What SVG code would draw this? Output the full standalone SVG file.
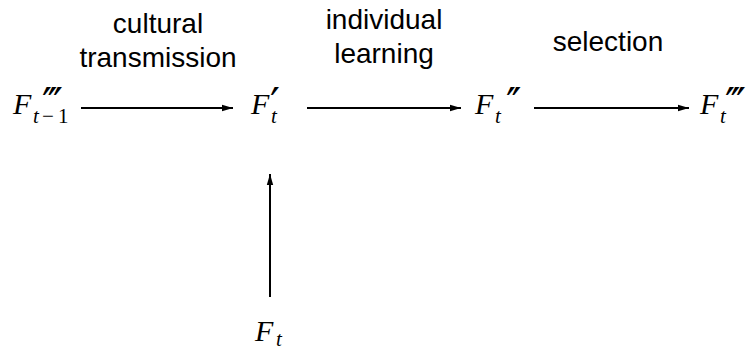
<svg xmlns="http://www.w3.org/2000/svg" width="746" height="354" viewBox="0 0 746 354">
<style>
.lbl{font-family:"Liberation Sans",Arial,sans-serif;font-size:28px;fill:#000;text-anchor:middle}
.m{font-family:"Liberation Serif","Times New Roman",serif;font-style:italic;font-size:30px;fill:#000}
.s{font-family:"Liberation Serif","Times New Roman",serif;font-style:italic;font-size:21px;fill:#000}
.n{font-family:"Liberation Serif","Times New Roman",serif;font-size:21px;fill:#000}
.p{font-family:"DejaVu Sans",sans-serif;font-size:44px;fill:#000}
.c{stroke:#000;stroke-width:2;fill:none}
</style>
<defs>
<marker id="ah" markerWidth="12" markerHeight="8" refX="11" refY="4" orient="auto" markerUnits="userSpaceOnUse">
<path d="M0,0.8 L11,4 L0,7.2 Z" fill="#000"/>
</marker>
</defs>
<rect width="746" height="354" fill="#fff"/>
<g id="labels">
<text class="lbl" x="158" y="33">cultural</text>
<text class="lbl" x="158" y="67">transmission</text>
<text class="lbl" x="384" y="29">individual</text>
<text class="lbl" x="384" y="63">learning</text>
<text class="lbl" x="608" y="51">selection</text>
</g>
<g id="n_Ftm1">
<text class="m" x="13" y="114">F</text>
<text class="p" x="42 47.5 53" y="120">′′′</text>
<text class="s" x="33" y="123">t</text>
<text class="n" x="42" y="123">−</text>
<text class="n" x="58" y="123">1</text>
</g>
<g id="n_Fp">
<text class="m" x="251" y="114">F</text>
<text class="p" x="270" y="120">′</text>
<text class="s" x="271" y="123">t</text>
</g>
<g id="n_Fpp">
<text class="m" x="475" y="114">F</text>
<text class="p" x="506 511.5" y="120">′′</text>
<text class="s" x="495" y="123">t</text>
</g>
<g id="n_Fppp">
<text class="m" x="700" y="114">F</text>
<text class="p" x="725 730.5 736" y="120">′′′</text>
<text class="s" x="720" y="123">t</text>
</g>
<g id="n_Ft">
<text class="m" x="255" y="341">F</text>
<text class="s" x="276" y="346">t</text>
</g>
<g id="connectors">
<line class="c" x1="81" y1="108" x2="233" y2="108" marker-end="url(#ah)"/>
<line class="c" x1="307" y1="108" x2="461" y2="108" marker-end="url(#ah)"/>
<line class="c" x1="534" y1="108" x2="689" y2="108" marker-end="url(#ah)"/>
<line class="c" x1="270" y1="297" x2="270" y2="174" marker-end="url(#ah)"/>
</g>
</svg>
